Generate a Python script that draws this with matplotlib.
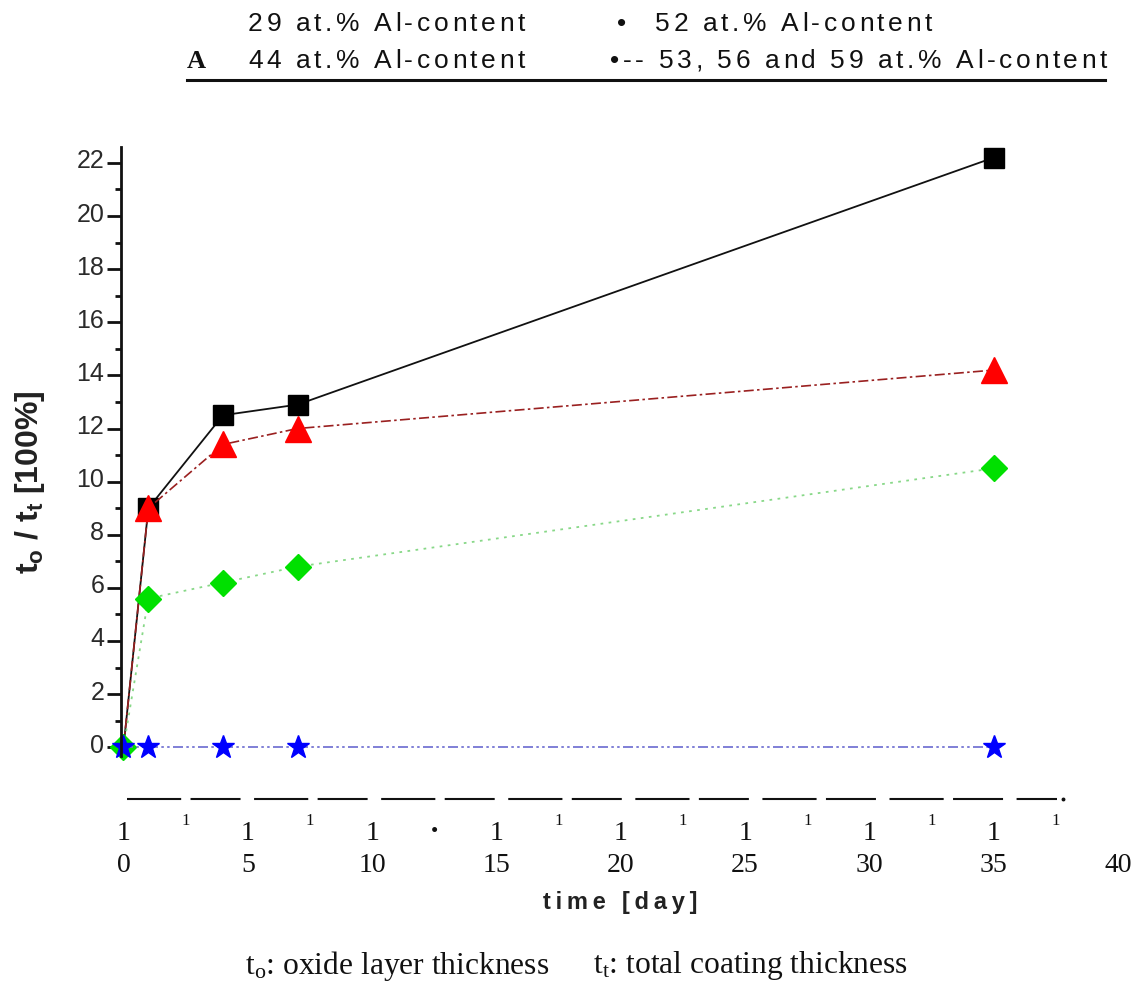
import matplotlib
matplotlib.use("Agg")
import matplotlib.pyplot as plt
import matplotlib.transforms as mtransforms
from matplotlib.ticker import MultipleLocator
from matplotlib.font_manager import FontProperties, findfont
from matplotlib.ft2font import FT2Font

# ---- data -------------------------------------------------------------
days = [0, 1, 4, 7, 35]
al29 = [0, 9.0, 12.5, 12.9, 22.2]
al44 = [0, 9.0, 11.4, 12.0, 14.2]
al52 = [0, 5.6, 6.2, 6.8, 10.5]
al53_59 = [0, 0, 0, 0, 0]

x_ticks = [0, 5, 10, 15, 20, 25, 30, 35, 40]
x_tick_labels = ["0", "5", "10", "15", "20", "25", "30", "35", "40"]
mark_major = [0, 5, 10, 15, 20, 25, 30, 35]
mark_minor = [2.5, 7.5, 17.5, 22.5, 27.5, 32.5, 37.5]
mark_dot = [12.5]

legend_row1 = ["29 at.% Al-content", "•", "52 at.% Al-content"]
legend_row2 = ["A", "44 at.% Al-content", "•-- 53, 56 and 59 at.% Al-content"]

plt.rcParams["mathtext.fontset"] = "custom"
plt.rcParams["mathtext.rm"] = "Liberation Serif"
plt.rcParams["mathtext.it"] = "Liberation Serif:italic"
plt.rcParams["mathtext.bf"] = "Liberation Sans:bold"
plt.rcParams["mathtext.sf"] = "Liberation Sans"

W, H = 1145, 1006
DPI = 100
fig = plt.figure(figsize=(W / DPI, H / DPI), dpi=DPI)
fig.patch.set_facecolor("white")


def fx(px):
    return px / W


def fy(py):
    return 1 - py / H


sans = ["Liberation Sans", "DejaVu Sans"]
serif = ["Liberation Serif", "DejaVu Serif"]


def tracked(s):
    """Widen letter spacing with thin spaces between characters."""
    return "\u2009".join(s)


def spaced_text(x_px, y_px, s, size, track_px, family="Liberation Sans",
                weight="normal", color="#111111"):
    """Draw a string character by character with extra letter spacing."""
    prop = FontProperties(family=family, size=size, weight=weight)
    font = FT2Font(findfont(prop))
    font.set_size(size, 72)
    x = x_px
    for ch in s:
        glyph = font.load_char(ord(ch))
        adv = glyph.linearHoriAdvance / 65536 * DPI / 72
        if ch != " ":
            fig.text(fx(x), fy(y_px), ch, ha="left", va="baseline",
                     fontproperties=prop, color=color)
        x += adv + track_px


ax = fig.add_axes([fx(121), fy(756), fx(1118) - fx(121), fy(147) - fy(756)])
ax.set_xlim(-0.1, 40)
ax.set_ylim(-0.33, 22.6)

# ---- series -----------------------------------------------------------
ax.plot(days, al29, color="#111111", lw=1.3, ls="-",
        marker="s", ms=14, mfc="#000000", mec="#000000", markevery=[1, 2, 3, 4],
        zorder=3, clip_on=False)
ax.plot(days, al44, color="#9a2020", lw=1.2, ls=(0, (6, 2, 1.5, 2)),
        marker="^", ms=19, mfc="#ff0000", mec="#ff0000", markevery=[1, 2, 3, 4],
        zorder=4, clip_on=False)
ax.plot(days, al52, color="#88d888", lw=1.3, ls=(0, (1.5, 3)),
        marker="D", ms=13, mfc="#00e000", mec="#00e000", zorder=5, clip_on=False)
ax.plot(days, al53_59, color="#6a6ad0", lw=1.2, ls=(0, (6, 2, 1.5, 2, 1.5, 2)),
        marker="*", ms=17, mfc="#0000ff", mec="#0000ff", zorder=6, clip_on=False)

# ---- y axis -----------------------------------------------------------
for s in ["top", "right", "bottom"]:
    ax.spines[s].set_visible(False)
ax.spines["left"].set_linewidth(2.0)
ax.spines["left"].set_color("#111111")
ax.spines["left"].set_zorder(7)
ax.set_yticks(range(0, 23, 2))
ax.yaxis.set_minor_locator(MultipleLocator(1))
ax.tick_params(axis="y", which="major", direction="out", length=10, width=2.0,
               labelsize=18, pad=2, colors="#111111", labelcolor="#2a2a2a")
ax.tick_params(axis="y", which="minor", direction="out", length=4.5, width=2.0,
               colors="#111111")
for lab in ax.get_yticklabels():
    lab.set_fontfamily(sans)
    lab.set_transform(lab.get_transform() +
                      mtransforms.ScaledTranslation(0, 4 / 100, fig.dpi_scale_trans))

ax.set_ylabel(r"$\mathbf{t_o}$ / $\mathbf{t_t}$ [100%]", fontsize=23,
              fontweight="bold", family=sans, color="#222222",
              va="center", ha="center")
ax.yaxis.set_label_coords(fx(30), fy(482), transform=fig.transFigure)

# ---- x axis: numbers as tick labels, drawn well below the plot ---------
ax.set_xticks(x_ticks)
ax.set_xticklabels(x_tick_labels)
ax.tick_params(axis="x", length=0, pad=70, labelsize=20)
for lab in ax.get_xticklabels():
    lab.set_fontfamily(serif)
    lab.set_color("#111111")

bt = mtransforms.blended_transform_factory(ax.transData, fig.transFigure)

# dashed baseline
ax.plot([0.16, 37.55], [fy(799), fy(799)], transform=bt, clip_on=False,
        color="#111111", lw=1.5, ls=(0, (26, 4.5, 24, 6.5)))
ax.plot([37.8], [fy(799)], transform=bt, clip_on=False, marker="o", ms=1.8,
        color="#111111")

for xv in mark_major:
    ax.text(xv, fy(833), "1", transform=bt, ha="center", va="center",
            fontsize=20, family=serif, color="#111111")
for xv in mark_minor:
    ax.text(xv, fy(821), "1", transform=bt, ha="center", va="center",
            fontsize=12, family=serif, color="#111111")
for xv in mark_dot:
    ax.text(xv, fy(832), "•", transform=bt, ha="center", va="center",
            fontsize=15, family=serif, color="#111111")

ax.text(20, fy(903), tracked("time [day]"), transform=bt, ha="center",
        va="center", fontsize=17, fontweight="bold", family=sans, color="#222222")

fig.text(fx(245), fy(966), r"t$_\mathrm{o}$: oxide layer thickness",
         ha="left", va="center", fontsize=22.7, family=serif, color="#111111")
fig.text(fx(593), fy(966), r"t$_\mathrm{t}$: total coating thickness",
         ha="left", va="center", fontsize=22.7, family=serif, color="#111111")

# ---- header legend (as text) ------------------------------------------
HDR_SIZE, HDR_TRACK = 19, 3.6
spaced_text(248, 31, legend_row1[0], HDR_SIZE, HDR_TRACK)
spaced_text(617, 31, legend_row1[1], HDR_SIZE, HDR_TRACK)
spaced_text(655, 31, legend_row1[2], HDR_SIZE, HDR_TRACK)
fig.text(fx(187), fy(68), legend_row2[0], ha="left", va="baseline",
         fontsize=19, family=serif, fontweight="bold", color="#111111")
spaced_text(248, 68, legend_row2[1], HDR_SIZE, HDR_TRACK)
spaced_text(610, 68, legend_row2[2], HDR_SIZE, HDR_TRACK)
fig.add_artist(plt.Line2D([fx(187), fx(1105)], [fy(80), fy(80)],
                          transform=fig.transFigure, color="#111111", lw=2.2))

fig.savefig("out.png", dpi=DPI, facecolor="white")
